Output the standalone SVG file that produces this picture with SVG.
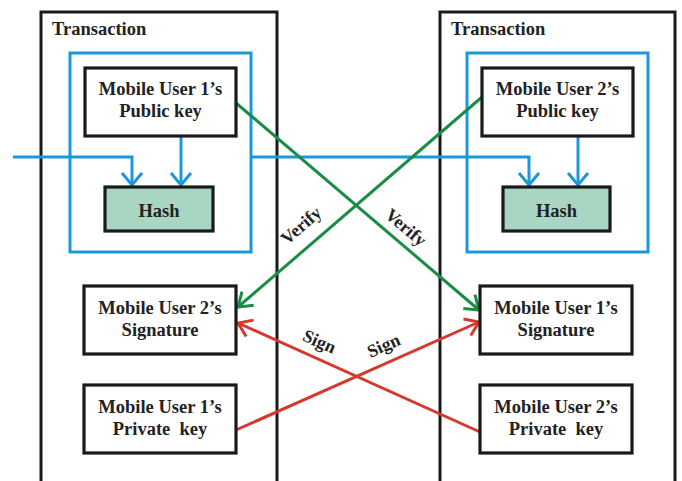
<svg xmlns="http://www.w3.org/2000/svg" width="682" height="481" viewBox="0 0 682 481">
  <style>
    .txn { fill: none; stroke: #1a1a1a; stroke-width: 3; }
    .scope { fill: none; stroke: #1b98d8; stroke-width: 3; }
    .box { fill: #ffffff; stroke: #1a1a1a; stroke-width: 3.2; }
    .hash { fill: #a9d6c3; stroke: #1a1a1a; stroke-width: 3.2; }
    text { font-family: "Liberation Serif", "Times New Roman", serif; font-weight: bold; fill: #222222; }
    .t { font-size: 18.5px; text-anchor: middle; }
    .title { font-size: 18.5px; }
    .lbl { font-size: 18px; text-anchor: middle; }
    .blue { fill: none; stroke: #1b98d8; stroke-width: 3; }
    .green { fill: none; stroke: #1a8c45; stroke-width: 3; }
    .red { fill: none; stroke: #d5382c; stroke-width: 3; }
  </style>
  <defs>
    <marker id="arrBlue" markerUnits="userSpaceOnUse" viewBox="-14 -12 16 24" refX="0" refY="0" markerWidth="16" markerHeight="24" orient="auto">
      <path d="M-12,-10 L0,0 L-12,10" fill="none" stroke="#1b98d8" stroke-width="3"/>
    </marker>
    <marker id="arrGreen" markerUnits="userSpaceOnUse" viewBox="-14 -12 16 24" refX="0" refY="0" markerWidth="16" markerHeight="24" orient="auto">
      <path d="M-13,-9 L0,0 L-13,9" fill="none" stroke="#1a8c45" stroke-width="3"/>
    </marker>
    <marker id="arrRed" markerUnits="userSpaceOnUse" viewBox="-14 -12 16 24" refX="0" refY="0" markerWidth="16" markerHeight="24" orient="auto">
      <path d="M-13,-9 L0,0 L-13,9" fill="none" stroke="#d5382c" stroke-width="3"/>
    </marker>
  </defs>
  <rect width="682" height="481" fill="#ffffff"/>

  <!-- transaction frames (open at the bottom) -->
  <g id="transaction-left">
    <path class="txn" d="M41,485 V12 H277 V485"/>
    <text class="title" x="52" y="35">Transaction</text>
  </g>
  <g id="transaction-right">
    <path class="txn" d="M440,485 V12 H675 V485"/>
    <text class="title" x="451" y="35">Transaction</text>
  </g>

  <!-- hashed scopes -->
  <g id="scope-left"><rect class="scope" x="70" y="53" width="181" height="199"/></g>
  <g id="scope-right"><rect class="scope" x="467" y="53" width="181" height="199"/></g>

  <!-- connectors -->
  <g id="connectors">
    <path class="blue" d="M13,157 H132 V185" marker-end="url(#arrBlue)"/>
    <path class="blue" d="M181,136 V185" marker-end="url(#arrBlue)"/>
    <path class="blue" d="M251,157 H529 V185" marker-end="url(#arrBlue)"/>
    <path class="blue" d="M578,136 V185" marker-end="url(#arrBlue)"/>
    <path class="green" d="M236,103 L479,310" marker-end="url(#arrGreen)"/>
    <path class="green" d="M482,97 L238,307" marker-end="url(#arrGreen)"/>
    <path class="red" d="M236,430 L479,322" marker-end="url(#arrRed)"/>
    <path class="red" d="M480,432 L238,323" marker-end="url(#arrRed)"/>
    <text class="lbl" transform="translate(305,230) rotate(-41)">Verify</text>
    <text class="lbl" transform="translate(402,232) rotate(40)">Verify</text>
    <text class="lbl" transform="translate(317,347) rotate(24)">Sign</text>
    <text class="lbl" transform="translate(386,351) rotate(-24)">Sign</text>
  </g>

  <!-- left column nodes -->
  <g id="pubkey-1">
    <rect class="box" x="85" y="68" width="151" height="68"/>
    <text class="t" x="160.5" y="95">Mobile User 1’s</text>
    <text class="t" x="160.5" y="117">Public key</text>
  </g>
  <g id="hash-left">
    <rect class="hash" x="105" y="187" width="108" height="44"/>
    <text class="t" x="159" y="217">Hash</text>
  </g>
  <g id="signature-2">
    <rect class="box" x="84" y="286" width="152" height="68"/>
    <text class="t" x="160" y="314">Mobile User 2’s</text>
    <text class="t" x="160" y="336">Signature</text>
  </g>
  <g id="privkey-1">
    <rect class="box" x="84" y="385" width="152" height="68"/>
    <text class="t" x="160" y="413">Mobile User 1’s</text>
    <text class="t" x="160" y="435" xml:space="preserve">Private  key</text>
  </g>

  <!-- right column nodes -->
  <g id="pubkey-2">
    <rect class="box" x="482" y="68" width="151" height="68"/>
    <text class="t" x="557.5" y="95">Mobile User 2’s</text>
    <text class="t" x="557.5" y="117">Public key</text>
  </g>
  <g id="hash-right">
    <rect class="hash" x="503" y="187" width="107" height="44"/>
    <text class="t" x="556.5" y="217">Hash</text>
  </g>
  <g id="signature-1">
    <rect class="box" x="480" y="286" width="152" height="68"/>
    <text class="t" x="556" y="314">Mobile User 1’s</text>
    <text class="t" x="556" y="336">Signature</text>
  </g>
  <g id="privkey-2">
    <rect class="box" x="480" y="385" width="152" height="68"/>
    <text class="t" x="556" y="413">Mobile User 2’s</text>
    <text class="t" x="556" y="435" xml:space="preserve">Private  key</text>
  </g>
</svg>
